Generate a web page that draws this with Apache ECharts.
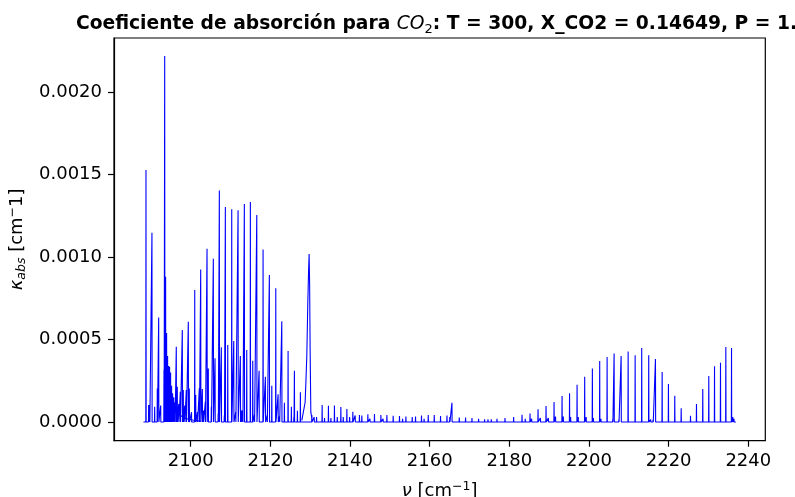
<!DOCTYPE html>
<html>
<head>
<meta charset="utf-8">
<script src="https://cdn.jsdelivr.net/npm/echarts@6/dist/echarts.min.js"></script>
<style>
  html, body { margin: 0; padding: 0; background: #fff; }
  #chart { width: 795px; height: 497px; }
</style>
</head>
<body>
<div id="chart"></div>
<script>
// Spectral range of the computed absorption coefficient [cm^-1]
const nuStart = 2088.14;
const nuEnd = 2236.87;

// Narrow absorption lines: centre wavenumber [cm^-1] and peak kappa [cm^-1]
const lineNu = [
  2088.77, 2089.44, 2089.70, 2090.27, 2090.95, 2091.61, 2091.96, 2092.46, 2093.29, 2093.47,
  2093.70, 2093.95, 2094.20, 2094.45, 2094.70, 2094.95, 2095.20, 2095.45, 2095.75, 2096.05,
  2096.38, 2096.63, 2097.00, 2097.39, 2097.89, 2098.14, 2098.50, 2098.89, 2099.40, 2099.65,
  2100.20, 2101.01, 2101.26, 2101.70, 2102.16, 2102.51, 2102.92, 2103.20, 2103.67, 2104.10,
  2104.42, 2105.18, 2105.68, 2106.11, 2106.90, 2107.19, 2107.69, 2108.44, 2108.70, 2109.30,
  2110.30, 2110.81, 2111.30, 2111.89, 2112.47, 2112.75, 2113.07, 2113.47, 2114.07, 2114.98,
  2115.58, 2116.00, 2116.59, 2117.17, 2118.17, 2118.75, 2119.20, 2119.75, 2120.36, 2121.36,
  2121.94, 2122.30, 2122.87, 2123.52, 2124.45, 2125.28, 2125.90, 2126.04, 2126.79, 2127.54,
  2130.41, 2131.00, 2131.60, 2133.00, 2133.60, 2134.58, 2135.20, 2136.09, 2136.80, 2137.70,
  2138.30, 2139.21, 2139.90, 2140.71, 2141.30, 2142.37, 2142.97, 2144.48, 2145.00, 2146.14,
  2147.75, 2148.30, 2149.26, 2150.84, 2152.42, 2153.20, 2154.03, 2155.62, 2156.45, 2157.95,
  2158.60, 2159.64, 2161.15, 2162.73, 2164.34, 2165.05, 2165.59, 2167.43, 2169.01, 2170.62,
  2172.28, 2173.79, 2174.64, 2175.47, 2176.90, 2178.91, 2181.08, 2183.19, 2184.00, 2185.20,
  2185.60, 2187.21, 2187.80, 2189.22, 2189.80, 2191.23, 2191.60, 2193.24, 2193.55, 2195.12,
  2195.40, 2197.01, 2197.30, 2198.92, 2199.30, 2200.85, 2201.10, 2202.69, 2203.00, 2204.55,
  2205.97, 2206.31, 2207.50, 2208.07, 2209.83, 2211.59, 2213.24, 2215.00, 2215.50, 2216.10,
  2216.69, 2218.37, 2219.95, 2221.54, 2223.15, 2225.49, 2226.99, 2228.57, 2230.08, 2231.52,
  2233.02, 2234.36, 2235.79, 2236.10, 2236.40
];
const lineK = [
  0.001527, 0.000103, 0.000105, 0.001147, 0.000093, 0.000204, 0.000634, 0.000100, 0.000315, 0.002218,
  0.000880, 0.000540, 0.000400, 0.000340, 0.000335, 0.000300, 0.000220, 0.000174, 0.000150, 0.000120,
  0.000456, 0.000214, 0.000110, 0.000184, 0.000558, 0.000194, 0.000100, 0.000194, 0.000608, 0.000204,
  0.000060, 0.000800, 0.000164, 0.000060, 0.000204, 0.000925, 0.000200, 0.000070, 0.000123, 0.001050,
  0.000325, 0.000093, 0.000990, 0.000386, 0.000050, 0.001403, 0.000453, 0.000040, 0.001303, 0.000467,
  0.001289, 0.000491, 0.000060, 0.001283, 0.000400, 0.000070, 0.000073, 0.001321, 0.000436, 0.001333,
  0.000371, 0.000045, 0.001254, 0.000311, 0.001046, 0.000275, 0.000040, 0.000891, 0.000220, 0.000810,
  0.000168, 0.000035, 0.000610, 0.000117, 0.000430, 0.000093, 0.000030, 0.000311, 0.000068, 0.000180,
  0.000042, 0.000030, 0.000030, 0.000103, 0.000025, 0.000099, 0.000025, 0.000100, 0.000030, 0.000091,
  0.000030, 0.000079, 0.000030, 0.000063, 0.000040, 0.000042, 0.000040, 0.000047, 0.000020, 0.000048,
  0.000042, 0.000020, 0.000043, 0.000038, 0.000036, 0.000020, 0.000033, 0.000031, 0.000033, 0.000040,
  0.000020, 0.000043, 0.000043, 0.000036, 0.000040, 0.000030, 0.000117, 0.000028, 0.000028, 0.000024,
  0.000020, 0.000017, 0.000017, 0.000017, 0.000020, 0.000024, 0.000030, 0.000044, 0.000020, 0.000052,
  0.000020, 0.000077, 0.000025, 0.000097, 0.000025, 0.000121, 0.000033, 0.000158, 0.000033, 0.000174,
  0.000030, 0.000226, 0.000030, 0.000275, 0.000030, 0.000325, 0.000024, 0.000370, 0.000020, 0.000394,
  0.000017, 0.000416, 0.000015, 0.000400, 0.000428, 0.000404, 0.000448, 0.000404, 0.000015, 0.000015,
  0.000382, 0.000303, 0.000230, 0.000160, 0.000083, 0.000038, 0.000109, 0.000200, 0.000279, 0.000338,
  0.000359, 0.000455, 0.000448, 0.000030, 0.000020
];

// Band-head wing next to the strongest line
const wingNu = [2093.40, 2093.55, 2093.80, 2094.10, 2094.50, 2095.00, 2095.60, 2096.40, 2097.40, 2098.80, 2100.50, 2102.50];
const wingK  = [0.000010, 0.000300, 0.000240, 0.000200, 0.000160, 0.000120, 0.000090, 0.000060, 0.000040, 0.000022, 0.000012, 0.000004];

// Q-branch contour
const qNu = [2127.90, 2128.36, 2128.73, 2128.98, 2129.15, 2129.40, 2129.60, 2129.73, 2129.85, 2129.98, 2130.16, 2130.36];
const qK  = [0.000010, 0.000020, 0.000120, 0.000280, 0.000400, 0.000720, 0.000920, 0.001018, 0.000850, 0.000450, 0.000060, 0.000030];

// Axis tick values
const xTicks = [2100, 2120, 2140, 2160, 2180, 2200, 2220, 2240];
const yTicks = [0, 0.0005, 0.0010, 0.0015, 0.0020];

// Stick spectrum: each line is a narrow spike rising from the baseline
const halfWidth = 0.045;
const spikeData = [[nuStart, 0]];
lineNu.forEach((nu, i) => {
  spikeData.push([nu - halfWidth, 0], [nu, lineK[i]], [nu + halfWidth, 0]);
});
spikeData.push([nuEnd, 0]);

const wingData = wingNu.map((nu, i) => [nu, wingK[i]]);
const qData = qNu.map((nu, i) => [nu, qK[i]]);

const FONT = 'DejaVu Sans';
const BLUE = '#0000ff';

const chart = echarts.init(document.getElementById('chart'), null, { renderer: 'canvas' });

const lineSeries = (data) => ({
  type: 'line',
  data: data,
  symbol: 'none',
  silent: true,
  clip: true,
  lineStyle: { color: BLUE, width: 1.1 },
  emphasis: { disabled: true }
});

chart.setOption({
  animation: false,
  backgroundColor: '#ffffff',
  textStyle: { fontFamily: FONT },
  title: {
    text: '{b|Coeficiente de absorción para }{i|CO}{s|2}{b|: T = 300, X_CO2 = 0.14649, P = 1.0}',
    left: 438,
    top: 7,
    textAlign: 'center',
    textStyle: {
      rich: {
        b: { fontFamily: FONT, fontWeight: 'bold', fontSize: 18.7, color: '#000', lineHeight: 24 },
        i: { fontFamily: FONT, fontStyle: 'italic', fontWeight: 'normal', fontSize: 18.7, color: '#000', lineHeight: 24 },
        s: { fontFamily: FONT, fontWeight: 'normal', fontSize: 13, color: '#000', lineHeight: 13, verticalAlign: 'bottom' }
      }
    }
  },
  grid: {
    left: 114, right: 29.7, top: 38, bottom: 56.3,
    outerBoundsMode: 'none',
    containLabel: false,
    show: true, borderColor: '#000', borderWidth: 1.2, backgroundColor: 'transparent'
  },
  xAxis: {
    type: 'value',
    min: 2080.74,
    max: 2244.27,
    axisLine: { show: true, onZero: false, lineStyle: { color: '#000', width: 1.2 } },
    axisTick: { show: true, customValues: xTicks, length: 6, lineStyle: { color: '#000', width: 1.2 } },
    axisLabel: {
      customValues: xTicks, fontSize: 18, color: '#000', fontFamily: FONT, margin: 12,
      formatter: (v) => String(v)
    },
    splitLine: { show: false },
    name: '{k|ν}{n| [cm}{p|−1}{n|]}',
    nameLocation: 'middle',
    nameGap: 40,
    nameTextStyle: {
      rich: {
        k: { fontFamily: FONT, fontStyle: 'italic', fontSize: 18, color: '#000', lineHeight: 22 },
        n: { fontFamily: FONT, fontSize: 18, color: '#000', lineHeight: 22 },
        p: { fontFamily: FONT, fontSize: 12.5, color: '#000', lineHeight: 12, verticalAlign: 'top' }
      }
    }
  },
  yAxis: {
    type: 'value',
    min: -0.000113,
    max: 0.002327,
    axisLine: { show: true, onZero: false, lineStyle: { color: '#000', width: 1.2 } },
    axisTick: { show: true, customValues: yTicks, length: 6, lineStyle: { color: '#000', width: 1.2 } },
    axisLabel: {
      customValues: yTicks, fontSize: 18, color: '#000', fontFamily: FONT, margin: 12,
      formatter: (v) => v.toFixed(4)
    },
    splitLine: { show: false },
    name: '{k|κ}{s|abs}{n| [cm}{p|−}{n|1]}',
    nameLocation: 'middle',
    nameRotate: 90,
    nameGap: 82,
    nameTextStyle: {
      rich: {
        k: { fontFamily: FONT, fontStyle: 'italic', fontSize: 18, color: '#000', lineHeight: 22 },
        s: { fontFamily: FONT, fontStyle: 'italic', fontSize: 12.5, color: '#000', lineHeight: 12, verticalAlign: 'bottom' },
        n: { fontFamily: FONT, fontSize: 18, color: '#000', lineHeight: 22 },
        p: { fontFamily: FONT, fontSize: 12.5, color: '#000', lineHeight: 12, verticalAlign: 'top' }
      }
    }
  },
  series: [lineSeries(spikeData), lineSeries(wingData), lineSeries(qData)]
});
</script>
</body>
</html>
